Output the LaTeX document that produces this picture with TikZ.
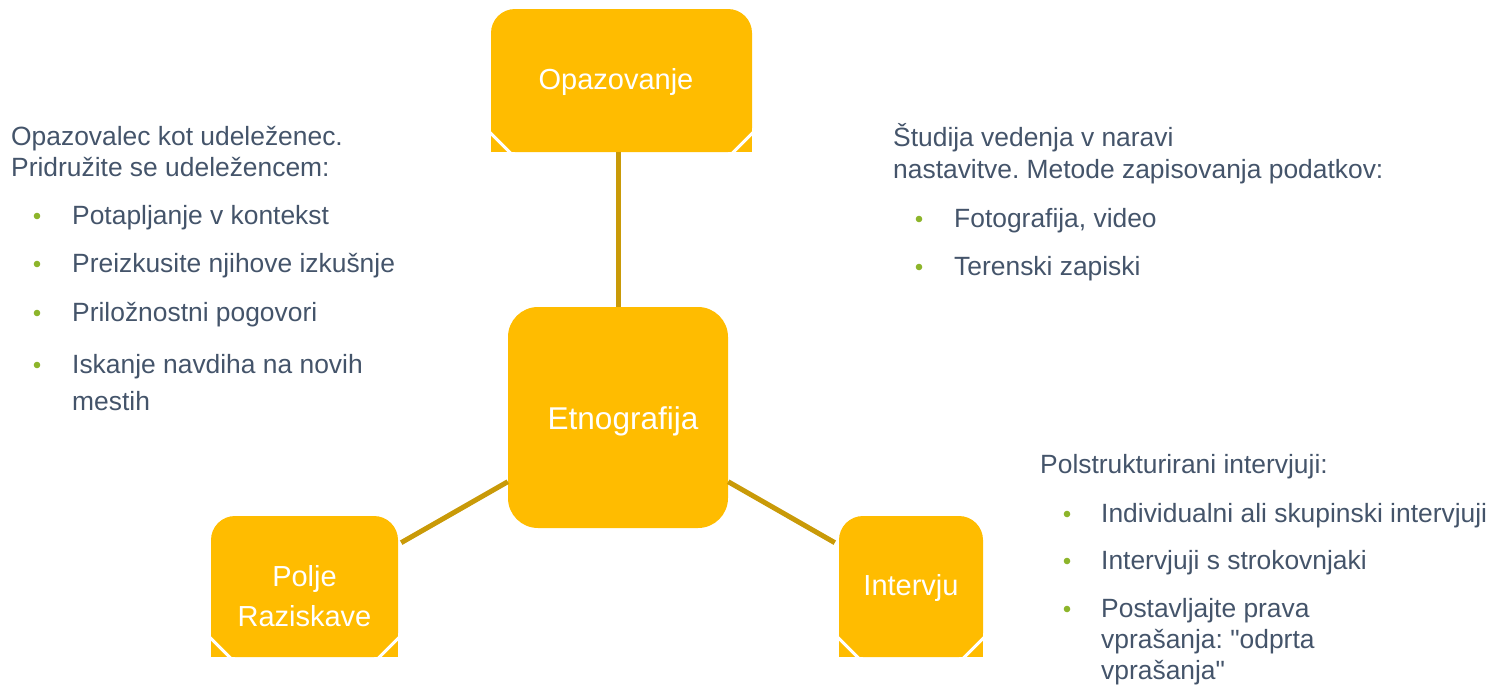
\documentclass[tikz,border=0pt]{standalone}
\usepackage{fontspec}
\setmainfont[Ligatures=TeXOff]{Liberation Sans}
\usetikzlibrary{calc}
\definecolor{boxc}{HTML}{FFBC00}
\definecolor{linkc}{HTML}{C99A08}
\definecolor{textc}{HTML}{44546A}
\definecolor{bulc}{HTML}{8DB52B}
\frenchspacing
\begin{document}
\begin{tikzpicture}[x=1pt,y=-1pt,
 box/.style={fill=boxc, rounded corners=24pt, inner sep=0pt, draw=none},
 lbl/.style={text=white, font=\fontsize{29}{40}\selectfont, anchor=base, align=center, inner sep=0pt},
 txt/.style={text=textc, font=\fontsize{26.4}{31}\selectfont, anchor=base west, inner sep=0pt},
 link/.style={draw=linkc, line width=5pt},
 cut/.style={draw=white, line width=3pt},
 bul/.style={fill=bulc},
]
\useasboundingbox (0,0) rectangle (1491,686);

% boxes
\node[box, minimum width=261pt, minimum height=143pt] (o) at (621.5,80.5) {};
\node[box, minimum width=187pt, minimum height=141pt] (p) at (304.5,586.5) {};
\node[box, minimum width=144pt, minimum height=141pt] (i) at (911,586.5) {};
\node[box, rounded corners=30pt, minimum width=220pt, minimum height=221pt] (e) at (618,417.5) {};

% square, cut-off bottoms of the outer boxes
\foreach \b in {o,p,i}{
  \fill[boxc] (\b.west) rectangle (\b.south east);
  \draw[cut] ($(\b.south west)+(-2,-21)$) -- ($(\b.south west)+(21,2)$);
  \draw[cut] ($(\b.south east)+(2,-21)$) -- ($(\b.south east)+(-21,2)$);
}

% labels
\node[lbl] (lo) at (616,89) {Opazovanje};
\node[lbl, font=\fontsize{31.5}{40}\selectfont] (le) at (623,429) {Etnografija};
\node[lbl] (lp) at (304.5,626) {Polje\\Raziskave};
\node[lbl] (li) at (911,595) {Intervju};

% connectors
\draw[link] (o.south -| e.north) -- (e.north);
\draw[link] ($(e.south west)!0.21!(e.north west)$) -- ($(p.north east)!0.19!(p.south east)+(3,0)$);
\draw[link] ($(e.south east)!0.21!(e.north east)$) -- ($(i.north west)!0.19!(i.south west)+(-4,0)$);

% left text
\node[txt] (a1) at (11,145) {Opazovalec kot udeleženec.};
\node[txt] (a2) at (11,176) {Pridružite se udeležencem:};
\node[txt] (a3) at (72,224) {Potapljanje v kontekst};
\node[txt] (a4) at (72,272) {Preizkusite njihove izkušnje};
\node[txt] (a5) at (72,321) {Priložnostni pogovori};
\node[txt] (a6) at (72,373) {Iskanje navdiha na novih};
\node[txt] (a7) at (72,410) {mestih};
\fill[bul] (37,216) circle (3.3pt);
\fill[bul] (37,264) circle (3.3pt);
\fill[bul] (37,313) circle (3.3pt);
\fill[bul] (37,365) circle (3.3pt);

% right top text
\node[txt] (b1) at (893,146) {Študija vedenja v naravi};
\node[txt] (b2) at (893,178) {nastavitve. Metode zapisovanja podatkov:};
\node[txt] (b3) at (954,227) {Fotografija, video};
\node[txt] (b4) at (954,275) {Terenski zapiski};
\fill[bul] (919,219) circle (3.3pt);
\fill[bul] (919,267) circle (3.3pt);

% right bottom text
\node[txt] (c1) at (1040,473) {Polstrukturirani intervjuji:};
\node[txt] (c2) at (1101,522) {Individualni ali skupinski intervjuji};
\node[txt] (c3) at (1101,569) {Intervjuji s strokovnjaki};
\node[txt] (c4) at (1101,617) {Postavljajte prava};
\node[txt] (c5) at (1101,648) {vprašanja: "odprta};
\node[txt] (c6) at (1101,679) {vprašanja"};
\fill[bul] (1067,514) circle (3.3pt);
\fill[bul] (1067,561) circle (3.3pt);
\fill[bul] (1067,609) circle (3.3pt);
\end{tikzpicture}
\end{document}
